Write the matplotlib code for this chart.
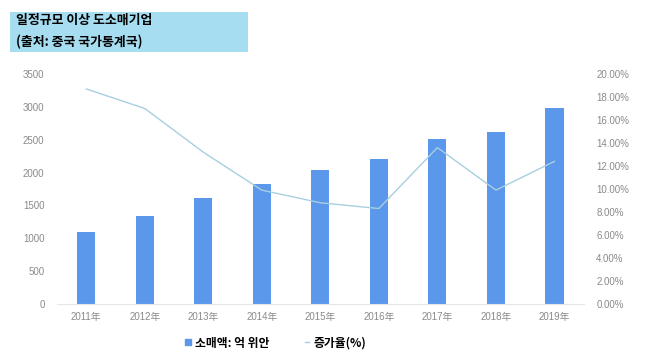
import matplotlib
matplotlib.use("Agg")
import matplotlib.pyplot as plt
from matplotlib.patches import Rectangle
from matplotlib.lines import Line2D
import numpy as np

plt.rcParams['font.family'] = ['Noto Sans CJK KR', 'DejaVu Sans']

years = ['2011年', '2012年', '2013年', '2014年', '2015年', '2016年', '2017年', '2018年', '2019年']
sales = [1096, 1335, 1618, 1822, 2044, 2211, 2506, 2613, 2987]
growth = [18.7, 17.0, 13.2, 9.9, 8.8, 8.3, 13.6, 9.9, 12.4]
left_ticks = [0, 500, 1000, 1500, 2000, 2500, 3000, 3500]
right_ticks = [0, 2, 4, 6, 8, 10, 12, 14, 16, 18, 20]

bar_color = '#5b97ea'
line_color = '#a8cfe0'
tick_color = '#8a8a8a'
tick_family = ['Liberation Sans', 'Noto Sans CJK KR']

fig = plt.figure(figsize=(6.5, 3.61), dpi=100)
ax = fig.add_axes([0.0877, 0.158, 0.8103, 0.637])
x = np.arange(len(years))
ax.bar(x, sales, width=0.31, color=bar_color, zorder=2)
ax.set_xlim(-0.5, len(years) - 0.5)
ax.set_ylim(0, 3500)
ax.set_yticks(left_ticks)
ax.set_xticks(x)
ax.set_xticklabels(years)
for s in ['top', 'right', 'left']:
    ax.spines[s].set_visible(False)
ax.spines['bottom'].set_color('#e6e6e6')
ax.tick_params(axis='both', length=0, colors=tick_color, labelsize=7)
ax.tick_params(axis='x', pad=6)
ax.tick_params(axis='y', pad=9)
for lab in ax.get_xticklabels() + ax.get_yticklabels():
    lab.set_family(tick_family)

ax2 = ax.twinx()
ax2.plot(x, growth, color=line_color, lw=1.0, zorder=3)
ax2.set_ylim(0, 20)
ax2.set_yticks(right_ticks)
ax2.set_yticklabels([f'{v:.2f}%' for v in right_ticks])
for s in ['top', 'right', 'left', 'bottom']:
    ax2.spines[s].set_visible(False)
ax2.tick_params(axis='y', length=0, colors=tick_color, labelsize=7, pad=9)
for lab in ax2.get_yticklabels():
    lab.set_family(tick_family)

# title box
fig.patches.append(Rectangle((10 / 650, 1 - 52 / 361), 238 / 650, 40 / 361,
                             transform=fig.transFigure, facecolor='#a6ddf0',
                             edgecolor='none', zorder=0))
fig.text(16 / 650, 1 - 20 / 361, '일정규모 이상 도소매기업', fontsize=9.3,
         fontweight='bold', va='center', ha='left')
fig.text(16 / 650, 1 - 42 / 361, '(출처: 중국 국가통계국)', fontsize=9.3,
         fontweight='bold', va='center', ha='left')

handles = [Line2D([], [], marker='s', ls='none', color=bar_color, markersize=4),
           Line2D([], [], color=line_color, lw=1.0)]
fig.legend(handles, ['소매액: 억 위안', '증가율(%)'], loc='center',
           bbox_to_anchor=(276 / 650, 1 - 343 / 361), ncol=2, frameon=False,
           handlelength=0.4, handletextpad=0.4, columnspacing=3.0,
           prop={'weight': 'bold', 'size': 8.5})

fig.savefig('out.png', dpi=100)
